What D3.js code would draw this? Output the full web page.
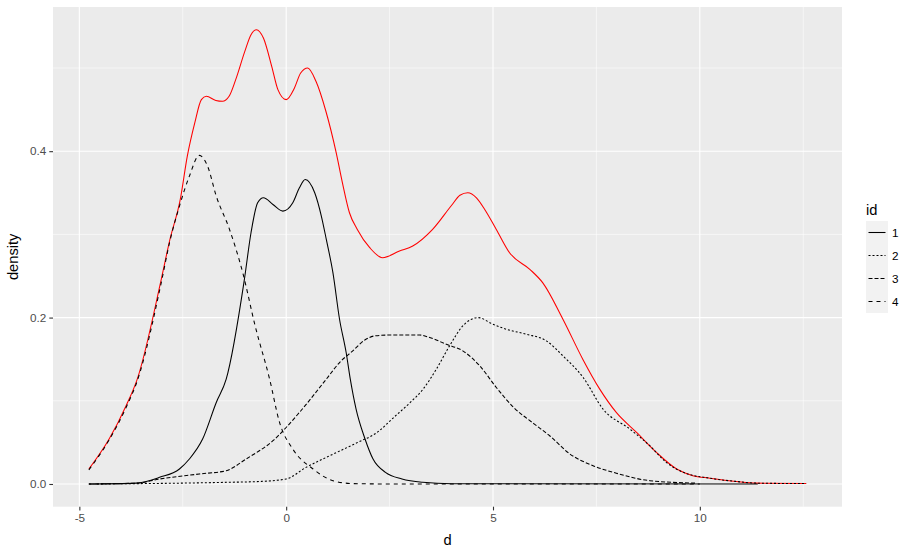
<!DOCTYPE html>
<html><head><meta charset="utf-8">
<script src="https://cdn.jsdelivr.net/npm/d3@7"></script>
<style>
body{margin:0;background:#fff;}
text{font-family:"Liberation Sans",Arial,sans-serif;}
</style></head>
<body><svg id="c" width="913" height="551"></svg>
<script>
// ---- data ----
const xTicks = [-5, 0, 5, 10];
const xTickLabels = ["-5", "0", "5", "10"];
const yTicks = [0, 0.2, 0.4];
const yTickLabels = ["0.0", "0.2", "0.4"];
const legendIds = ["1", "2", "3", "4"];

// total (red)
const totalX = [-4.77,-4.28,-3.87,-3.60,-3.02,-2.81,-2.56,-2.39,-2.21,-2.05,-1.93,-1.70,-1.54,-1.38,-1.22,-1.0,-0.85,-0.72,-0.55,-0.35,-0.2,0,0.2,0.35,0.52,0.72,0.96,1.21,1.36,1.53,1.72,2.02,2.33,2.74,3.06,3.54,4.0,4.2,4.39,4.6,4.8,5.08,5.40,5.89,6.20,6.69,7.17,7.58,7.98,8.47,8.95,9.44,9.83,10.24,10.89,11.37,12.57];
const totalY = [0.018,0.054,0.094,0.126,0.246,0.294,0.342,0.394,0.434,0.462,0.466,0.461,0.460,0.466,0.486,0.520,0.540,0.546,0.536,0.502,0.474,0.462,0.476,0.494,0.500,0.484,0.448,0.398,0.362,0.326,0.306,0.284,0.272,0.280,0.286,0.306,0.335,0.347,0.350,0.344,0.330,0.306,0.278,0.258,0.242,0.198,0.150,0.114,0.086,0.062,0.038,0.018,0.010,0.007,0.003,0.001,0.0005];

// id 1 (solid)
const id1X = [-4.77,-3.63,-3.06,-2.58,-2.34,-2.02,-1.69,-1.45,-1.01,-0.85,-0.69,-0.55,-0.32,-0.08,0.16,0.32,0.46,0.69,0.85,0.97,1.13,1.29,1.45,1.55,1.69,1.9,2.1,2.4,2.8,3.3,4.0,11.4];
const id1Y = [0,0.001,0.008,0.018,0.030,0.054,0.098,0.126,0.246,0.302,0.338,0.344,0.336,0.328,0.338,0.356,0.366,0.350,0.322,0.294,0.254,0.198,0.158,0.126,0.090,0.055,0.030,0.014,0.006,0.002,0.0003,0];

// id 2 (dotted)
const id2X = [-4.77,-1.45,-0.65,0,0.48,0.97,1.73,2.2,2.6,3.0,3.31,3.63,3.95,4.27,4.64,5.0,5.32,5.81,6.29,6.69,7.18,7.66,8.31,8.79,9.19,9.60,10.24,10.89,11.37,12.57];
const id2Y = [0,0.002,0.003,0.006,0.020,0.032,0.050,0.062,0.080,0.098,0.114,0.138,0.166,0.190,0.200,0.192,0.186,0.180,0.172,0.154,0.128,0.090,0.066,0.046,0.026,0.014,0.007,0.003,0.001,0.0005];

// id 3 (dashed)
const id3X = [-4.77,-3.63,-3.06,-2.1,-1.45,-0.97,-0.32,0.32,0.97,1.29,1.61,1.90,2.14,2.50,3.23,3.47,3.87,4.27,4.68,5.08,5.5,6.0,6.37,6.86,7.42,7.98,8.79,9.92];
const id3Y = [0,0.001,0.006,0.012,0.016,0.030,0.052,0.086,0.126,0.146,0.160,0.173,0.178,0.179,0.179,0.176,0.168,0.160,0.142,0.116,0.092,0.072,0.058,0.036,0.022,0.013,0.004,0.001];

// id 4 (long dash)
const id4X = [-4.77,-4.28,-3.87,-3.60,-3.02,-2.82,-2.58,-2.34,-2.10,-1.90,-1.69,-1.37,-1.05,-0.75,-0.40,-0.16,0.16,0.65,1.13,1.61,2.5,10.0];
const id4Y = [0.017,0.053,0.092,0.124,0.242,0.290,0.334,0.370,0.395,0.382,0.346,0.306,0.254,0.190,0.126,0.074,0.042,0.018,0.004,0.0005,0,0];

// ---- drawing ----
const svg = d3.select("#c");
const P = {l:53, r:842, t:7, b:506.7};

const xMin = -4.77, xMax = 12.57, xPad = (xMax - xMin) * 0.05;
const yMin = 0, yMax = 0.546, yPad = (yMax - yMin) * 0.05;
const x = d3.scaleLinear().domain([xMin - xPad, xMax + xPad]).range([P.l, P.r]);
const y = d3.scaleLinear().domain([yMin - yPad, yMax + yPad]).range([P.b, P.t]);

svg.append("rect").attr("x", P.l).attr("y", P.t).attr("width", P.r - P.l).attr("height", P.b - P.t).attr("fill", "#EBEBEB");

const g = svg.append("g");
// minor grid
const xMinor = [-2.5, 2.5, 7.5, 12.5];
const yMinor = [0.1, 0.3, 0.5];
g.selectAll(".xm").data(xMinor).join("line").attr("x1", d => x(d)).attr("x2", d => x(d)).attr("y1", P.t).attr("y2", P.b).attr("stroke", "#fff").attr("stroke-width", 0.55);
g.selectAll(".ym").data(yMinor).join("line").attr("y1", d => y(d)).attr("y2", d => y(d)).attr("x1", P.l).attr("x2", P.r).attr("stroke", "#fff").attr("stroke-width", 0.55);
// major grid
g.selectAll(".xM").data(xTicks).join("line").attr("x1", d => x(d)).attr("x2", d => x(d)).attr("y1", P.t).attr("y2", P.b).attr("stroke", "#fff").attr("stroke-width", 1.1);
g.selectAll(".yM").data(yTicks).join("line").attr("y1", d => y(d)).attr("y2", d => y(d)).attr("x1", P.l).attr("x2", P.r).attr("stroke", "#fff").attr("stroke-width", 1.1);

// axes
const xAxis = d3.axisBottom(x).tickValues(xTicks).tickFormat((d, i) => xTickLabels[i]).tickSize(3.7).tickPadding(3);
const yAxis = d3.axisLeft(y).tickValues(yTicks).tickFormat((d, i) => yTickLabels[i]).tickSize(3.7).tickPadding(3);
const gx = svg.append("g").attr("transform", `translate(0,${P.b})`).call(xAxis);
const gy = svg.append("g").attr("transform", `translate(${P.l},0)`).call(yAxis);
[gx, gy].forEach(a => {
  a.select(".domain").remove();
  a.selectAll(".tick line").attr("stroke", "#333333").attr("stroke-width", 1.1);
  a.selectAll(".tick text").attr("fill", "#4D4D4D").style("font-size", "11.7px");
});

// axis titles
svg.append("text").attr("x", (P.l + P.r) / 2).attr("y", 545).attr("text-anchor", "middle").style("font-size", "14.7px").attr("fill", "#000").text("d");
svg.append("text").attr("transform", `translate(18,${(P.t + P.b) / 2}) rotate(-90)`).attr("text-anchor", "middle").style("font-size", "14.7px").attr("fill", "#000").text("density");

// lines
const line = d3.line().x(d => x(d[0])).y(d => y(d[1])).curve(d3.curveMonotoneX);
const series = [
  {xs: totalX, ys: totalY, color: "#FF0000", dash: null},
  {xs: id1X, ys: id1Y, color: "#000", dash: null},
  {xs: id2X, ys: id2Y, color: "#000", dash: "2,2"},
  {xs: id3X, ys: id3Y, color: "#000", dash: "4,2"},
  {xs: id4X, ys: id4Y, color: "#000", dash: "4,4"}
];
svg.append("clipPath").attr("id", "pc").append("rect").attr("x", P.l).attr("y", P.t).attr("width", P.r - P.l).attr("height", P.b - P.t);
const lg = svg.append("g").attr("clip-path", "url(#pc)");
series.forEach(s => {
  const pts = s.xs.map((v, i) => [v, s.ys[i]]);
  lg.append("path").attr("d", line(pts)).attr("fill", "none").attr("stroke", s.color)
    .attr("stroke-width", 1.07).attr("stroke-dasharray", s.dash);
});

// legend
const dashes = [null, "2,2", "4,2", "4,4"];
const L = svg.append("g").attr("transform", "translate(866,0)");
L.append("text").attr("x", 0).attr("y", 215).style("font-size", "14.7px").attr("fill", "#000").text("id");
const keyH = 23, keyW = 22, key0 = 221;
const rows = L.selectAll(".k").data(legendIds).join("g").attr("transform", (d, i) => `translate(0,${key0 + i * keyH})`);
rows.append("rect").attr("width", keyW).attr("height", keyH).attr("fill", "#F2F2F2");
rows.append("line").attr("x1", 2.5).attr("x2", keyW - 2.5).attr("y1", keyH / 2).attr("y2", keyH / 2)
  .attr("stroke", "#000").attr("stroke-width", 1.07).attr("stroke-dasharray", (d, i) => dashes[i]);
rows.append("text").attr("x", keyW + 4).attr("y", keyH / 2 + 4.2).style("font-size", "11.7px").attr("fill", "#000").text(d => d);
</script></body></html>
